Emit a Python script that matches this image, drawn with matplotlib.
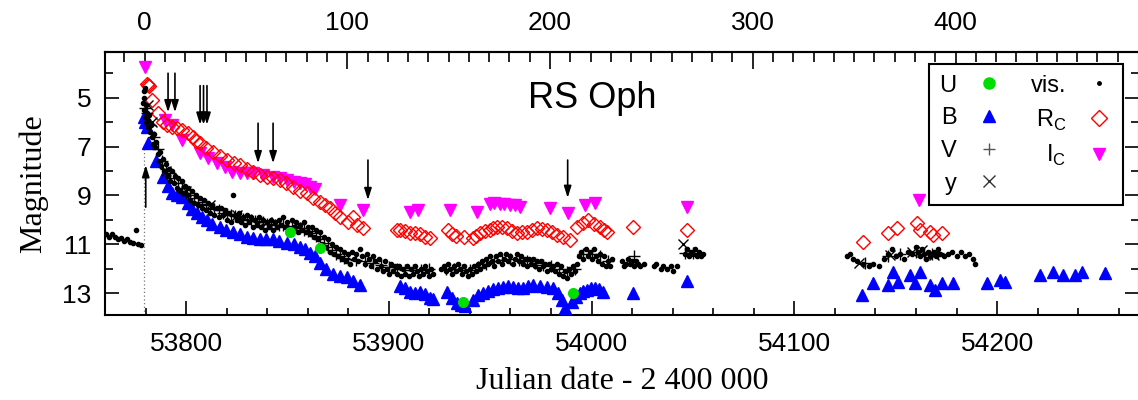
import matplotlib
matplotlib.use("Agg")
import matplotlib.pyplot as plt
from matplotlib.ticker import MultipleLocator, FixedLocator
from matplotlib.lines import Line2D

# ---------------- data ----------------
T0 = 53779.5  # outburst date used for the top axis

u_jd = [53851.2, 53866.0, 53936.6, 53990.8]
u_mag = [10.5, 11.15, 13.35, 12.98]

b_jd = [53779.0, 53779.8, 53780.5, 53781.2, 53785.0, 53788.6, 53791.0, 53793.0, 53795.5,
        53798.0, 53801.0, 53803.0, 53805.4, 53808.0, 53810.3, 53813.0, 53816.7, 53819.8,
        53823.0, 53826.5, 53830.0, 53833.0, 53836.4, 53839.6, 53842.9, 53846.0, 53849.8,
        53853.0, 53856.0, 53858.5, 53861.0, 53863.5, 53866.0, 53869.0, 53872.4, 53876.0,
        53879.4, 53882.5, 53885.8,
        53905.5, 53907.9, 53910.4, 53912.9, 53915.4, 53918.0, 53920.3, 53922.0, 53928.7,
        53931.0, 53933.6, 53935.5, 53937.6, 53941.5, 53944.0, 53946.4, 53949.0, 53951.4,
        53953.9, 53956.3, 53958.7, 53961.2, 53963.7, 53966.2, 53968.6, 53971.1, 53974.5,
        53978.0, 53981.0, 53983.2, 53985.4, 53987.0, 53990.3, 53992.3, 53994.3, 53996.0,
        53997.7, 53999.7, 54001.7, 54003.6, 54005.6, 54020.4,
        54047.0, 54133.4, 54138.8, 54146.2, 54148.7, 54151.2, 54157.0, 54159.5, 54162.0,
        54166.9, 54169.4, 54172.8, 54178.3, 54195.0, 54201.4, 54203.9, 54221.2, 54227.6,
        54232.5, 54238.4, 54241.9, 54253.2]
b_mag = [5.8, 6.0, 6.2, 6.86, 7.6, 8.25, 8.6, 8.9, 9.0,
         9.06, 9.3, 9.55, 9.72, 9.9, 10.0, 10.15, 10.3, 10.4,
         10.5, 10.6, 10.7, 10.75, 10.8, 10.8, 10.8, 10.85, 10.95,
         11.0, 11.1, 11.2, 11.35, 11.5, 11.75, 12.0, 12.2, 12.3,
         12.35, 12.5, 12.66,
         12.7, 12.8, 12.95, 13.0, 12.95, 13.05, 13.2, 13.25, 12.95,
         13.2, 13.4, 13.5, 13.55, 13.27, 13.1, 12.98, 12.9, 12.85,
         12.8, 12.74, 12.7, 12.75, 12.8, 12.78, 12.7, 12.66, 12.7,
         12.74, 12.8, 13.0, 13.27, 13.6, 13.35, 13.15, 12.98, 12.9,
         12.86, 12.8, 12.8, 12.85, 12.95, 12.98,
         12.5, 13.08, 12.6, 12.68, 12.13, 12.55, 12.25, 12.6, 12.13,
         12.67, 12.87, 12.58, 12.58, 12.6, 12.45, 12.55, 12.25, 12.13,
         12.25, 12.25, 12.13, 12.18]

v_jd = [53779.5, 53780.5, 53782, 53784, 53786, 53788, 53790, 53792, 53794, 53796, 53798,
        53800, 53802, 53804, 53806, 53808, 53810, 53812, 53814, 53816, 53818, 53820,
        53822, 53824, 53826, 53828, 53830, 53832, 53834, 53836, 53838, 53840, 53842,
        53844, 53846, 53848, 53850, 53852, 53854, 53856, 53858, 53860, 53862, 53864,
        53866, 53868, 53870, 53872, 53874, 53876, 53878, 53880, 53884, 53888, 53892,
        53896, 53900, 53904, 53908, 53912, 53916, 53920, 53928, 53932, 53936, 53940,
        53944, 53948, 53952, 53956, 53960, 53964, 53968, 53972, 53976, 53980, 53984,
        53988, 53992, 53996, 54000, 54004, 54008, 54021, 54046, 54050, 54135, 54146,
        54152, 54160, 54164, 54168, 54171]
v_mag = [5.4, 5.6, 6.1, 6.6, 7.1, 7.6, 7.9, 8.1, 8.3, 8.5, 8.7,
         8.9, 9.0, 9.1, 9.25, 9.35, 9.4, 9.5, 9.55, 9.6, 9.7, 9.75,
         9.8, 9.85, 9.9, 9.95, 10.0, 10.0, 10.05, 10.1, 10.1, 10.15, 10.15,
         10.2, 10.2, 10.2, 10.25, 10.3, 10.3, 10.35, 10.4, 10.45, 10.55, 10.65,
         10.8, 10.95, 11.1, 11.25, 11.4, 11.5, 11.55, 11.6, 11.65, 11.7, 11.75,
         11.85, 11.95, 12.0, 12.05, 12.05, 12.05, 12.0, 12.0, 12.0, 12.05, 12.05,
         11.95, 11.8, 11.7, 11.65, 11.6, 11.65, 11.7, 11.75, 11.85, 11.9, 12.0,
         12.15, 12.0, 11.4, 11.4, 11.5, 11.7, 11.5, 11.35, 11.35, 11.75, 11.5,
         11.4, 11.3, 11.4, 11.4, 11.35]

y_jd = [53781, 53783, 53790, 53800, 53812, 53825, 53840, 53855, 54045,
        54132, 54147, 54158, 54163, 54169]
y_mag = [5.3, 6.0, 8.0, 8.8, 9.4, 9.8, 10.1, 10.3, 11.0,
         11.75, 11.45, 11.3, 11.25, 11.45]

vis_jd = [53760.5, 53762, 53763.5, 53765, 53766.5, 53768, 53769.5, 53771, 53772.5, 53774,
          53775.5, 53776.5, 53778,
          53778.8, 53779.0, 53779.2, 53779.4, 53779.6, 53779.8, 53780.0, 53780.3, 53780.6,
          53781.0, 53781.4, 53781.8, 53782.2, 53782.7, 53783.2, 53783.7, 53784.2, 53784.8,
          53785.4, 53786.0, 53786.6, 53787.2, 53787.8, 53788.5, 53789.2, 53790.0, 53790.8,
          53791.5, 53792.3, 53793.0, 53793.8, 53794.6, 53795.4, 53796.2, 53797.0, 53797.8,
          53798.6, 53799.4, 53800.2, 53801, 53802, 53803, 53804, 53805, 53806, 53807, 53808,
          53809, 53810, 53811, 53812, 53813, 53814, 53815, 53816, 53817, 53818, 53819,
          53820, 53821, 53822, 53823, 53824, 53825, 53826, 53827, 53828, 53829, 53830,
          53831, 53832, 53833, 53834, 53835, 53836, 53837, 53838, 53839, 53840, 53841,
          53842, 53843, 53844, 53845, 53846, 53847, 53848, 53849, 53850, 53851, 53852,
          53853, 53854, 53855, 53856, 53857, 53858, 53859, 53860, 53861, 53862, 53863,
          53864, 53865, 53866, 53867, 53868, 53869, 53870, 53871, 53872, 53873, 53874,
          53875, 53876, 53877, 53878, 53879, 53880, 53881, 53882, 53883, 53884, 53885,
          53886, 53887, 53888, 53889, 53890, 53891, 53892, 53893, 53894, 53895, 53896,
          53897, 53898, 53899, 53900, 53901, 53902, 53903, 53904, 53905, 53906, 53907,
          53908, 53909, 53910, 53911, 53912, 53913, 53914, 53915, 53916, 53917, 53918,
          53919, 53920, 53921, 53922, 53925.5, 53927, 53928, 53929, 53930, 53931, 53932,
          53933, 53934, 53935, 53936, 53937, 53938, 53939, 53940, 53941, 53942, 53943,
          53944, 53945, 53946, 53947, 53948, 53949, 53950, 53951, 53952, 53953, 53954,
          53955, 53956, 53957, 53958, 53959, 53960, 53961, 53962, 53963, 53964, 53965,
          53966, 53967, 53968, 53969, 53970, 53971, 53972, 53973, 53974, 53975, 53976,
          53977, 53978, 53979, 53980, 53981, 53982, 53983, 53984, 53985, 53986, 53987,
          53988, 53989, 53990, 53991, 53992, 53993, 53994, 53995, 53996, 53997, 53998,
          53999, 54000, 54001, 54002, 54003, 54004, 54005, 54006, 54007, 54008, 54009,
          54010, 54015, 54016, 54017, 54018, 54019, 54020, 54021, 54022, 54023, 54024,
          54026, 54031, 54032, 54034, 54035, 54037, 54039, 54040, 54042, 54046, 54047,
          54048, 54049, 54050, 54051, 54052, 54053, 54054, 54055,
          54126, 54127.5, 54129, 54131, 54134, 54137, 54139, 54142, 54144, 54146, 54148,
          54150, 54152, 54154, 54156, 54158, 54160, 54161, 54162, 54163, 54164, 54165,
          54166, 54167, 54168, 54169, 54170, 54171, 54172, 54174, 54176, 54178, 54180,
          54182, 54184, 54186, 54188, 54189]
vis_mag = [10.6, 10.7, 10.6, 10.7, 10.8, 10.75, 10.85, 10.8, 10.9, 10.95,
           10.4, 11.0, 11.05,
           5.2, 4.7, 5.5, 5.0, 5.8, 4.6, 6.0, 5.3, 5.6,
           5.9, 6.2, 5.7, 6.4, 6.1, 6.6, 6.9, 6.5, 7.0,
           6.8, 7.3, 7.6, 7.2, 7.8, 7.5, 8.0, 7.7, 8.2,
           7.9, 8.4, 8.0, 8.5, 8.2, 8.7, 8.3, 8.8, 8.4,
           8.9, 8.6, 9.0, 8.7, 9.2, 8.8, 9.3, 9.0, 9.4, 9.1, 9.5,
           9.2, 9.6, 9.3, 9.7, 9.4, 9.8, 9.5, 9.9, 9.5, 9.8, 9.6,
           10.0, 9.7, 10.1, 9.0, 9.8, 10.0, 9.7, 10.1, 9.9, 10.2, 9.8,
           10.1, 9.9, 10.3, 10.0, 10.2, 9.9, 10.3, 10.0, 10.4, 10.1, 10.3,
           10.0, 10.4, 10.1, 10.3, 10.0, 10.2, 9.9, 10.3, 10.1, 10.4, 10.0,
           10.3, 10.1, 10.5, 10.2, 10.4, 10.1, 10.5, 10.3, 10.6, 10.3, 10.7,
           10.4, 10.8, 10.5, 11.0, 10.7, 11.1, 10.8, 11.3, 11.0, 11.4, 11.1,
           11.5, 11.2, 11.6, 11.3, 11.7, 11.4, 11.8, 11.3, 11.6, 11.4, 11.7,
           11.2, 11.5, 11.8, 11.4, 11.6, 11.9, 11.5, 11.7, 12.0, 11.6, 11.9,
           12.1, 11.7, 12.0, 12.2, 11.8, 12.1, 11.9, 12.2, 11.9, 12.3, 12.0,
           12.2, 11.9, 12.3, 12.0, 12.2, 11.9, 12.1, 12.3, 12.0, 12.2, 11.9,
           12.1, 12.3, 12.0, 12.2, 12.0, 11.9, 12.1, 11.8, 12.0, 12.2, 11.9,
           12.1, 11.8, 12.0, 12.2, 11.9, 12.1, 12.3, 12.0, 12.2, 11.9, 12.1,
           11.8, 12.0, 11.7, 11.9, 11.6, 11.8, 11.5, 11.7, 11.9, 11.5, 11.7,
           11.4, 11.8, 11.6, 11.4, 11.7, 11.5, 11.8, 11.6, 11.4, 11.7, 11.5,
           11.8, 11.6, 11.9, 11.6, 11.8, 11.6, 11.9, 11.7, 12.0, 11.7, 11.9,
           11.8, 12.1, 11.8, 12.0, 11.9, 12.1, 11.8, 12.2, 11.9, 12.3, 12.1,
           12.4, 12.0, 12.2, 11.9, 12.1, 11.8, 11.5, 11.3, 11.6, 11.2, 11.5,
           11.3, 11.6, 11.2, 11.5, 11.7, 11.4, 11.8, 11.5, 11.9, 11.7, 11.9,
           11.6, 11.7, 11.9, 11.8, 11.6, 11.8, 11.7, 11.9, 11.7, 11.8, 11.9,
           11.8, 11.9, 11.8, 12.0, 11.9, 12.0, 11.9, 12.1, 11.9, 11.4, 11.2,
           11.5, 11.3, 11.4, 11.2, 11.5, 11.3, 11.5, 11.4,
           11.5, 11.4, 11.6, 11.7, 11.8, 11.9, 11.8, 11.9, 11.6, 11.4, 11.2,
           11.5, 11.4, 11.6, 11.3, 11.4, 11.1, 11.3, 11.5, 11.2, 11.4, 11.6,
           11.3, 11.5, 11.4, 11.3, 11.5, 11.2, 11.4, 11.5, 11.4, 11.3, 11.5,
           11.3, 11.5, 11.4, 11.6, 11.8]

r_jd = [53780.8, 53781.2, 53781.6, 53783.2, 53785.9, 53788.6, 53790.8, 53793.0, 53795.5,
        53798.0, 53800.7, 53803.4, 53805.0, 53806.9, 53810.0, 53813.3, 53816.7, 53820.2,
        53823.4, 53826.6, 53829.8, 53833.0, 53836.4, 53839.9, 53843.1, 53846.3, 53849.5,
        53852.7, 53856.2, 53859.6, 53862.8, 53866.0, 53868.5, 53871.0, 53873.4, 53875.9,
        53879.9, 53882.3, 53884.5, 53887.3,
        53904.0, 53905.5, 53907.9, 53910.4, 53912.9, 53915.4, 53918.0, 53920.3, 53929.2,
        53931.1, 53933.0, 53937.0, 53941.5, 53943.2, 53945.0, 53947.4, 53949.9, 53951.6,
        53953.3, 53955.8, 53958.3, 53960.7, 53963.2, 53965.6, 53968.1, 53970.6, 53973.1,
        53975.5, 53978.0, 53980.5, 53982.9, 53986.0, 53989.3, 53993.0, 53995.8, 53998.2,
        54001.0, 54004.1, 54006.0, 54007.6,
        54020.4, 54047.0, 54133.9, 54146.2, 54150.6, 54160.5, 54162.0, 54166.9, 54168.4,
        54172.8]
r_mag = [4.45, 4.48, 4.5, 5.1, 5.6, 5.98, 6.1, 6.2, 6.25,
         6.33, 6.45, 6.6, 6.75, 6.86, 7.05, 7.22, 7.4, 7.55,
         7.65, 7.76, 7.9, 8.04, 8.15, 8.25, 8.3, 8.37, 8.5,
         8.66, 8.8, 8.9, 9.1, 9.27, 9.4, 9.52, 9.7, 9.88,
         10.09, 9.88, 10.2, 10.34,
         10.4, 10.4, 10.45, 10.53, 10.55, 10.6, 10.7, 10.74, 10.41,
         10.6, 10.65, 10.7, 10.74, 10.65, 10.53, 10.45, 10.41, 10.35,
         10.29, 10.3, 10.35, 10.45, 10.53, 10.5, 10.49, 10.4, 10.35,
         10.38, 10.41, 10.5, 10.62, 10.7, 10.82, 10.3, 10.13, 10.0,
         10.15, 10.29, 10.4, 10.49,
         10.29, 10.41, 10.9, 10.55, 10.35, 10.14, 10.41, 10.49, 10.62,
         10.55]

i_jd = [53779.7, 53789.6, 53793.0, 53798.0, 53806.9, 53810.9, 53815.2, 53819.0, 53822.6,
        53826.6, 53829.8, 53833.0, 53837.9, 53842.9, 53846.3, 53849.8, 53853.0, 53856.2,
        53858.7, 53861.1, 53863.5, 53875.9, 53887.3, 53910.4, 53914.4, 53930.2,
        53943.5, 53949.9, 53952.0, 53954.8, 53957.0, 53959.8, 53962.0, 53964.7, 53979.5,
        53988.4, 53996.7, 54001.7, 54047.0, 54161.5]
i_mag = [3.75, 5.9, 6.1, 6.73, 7.26, 7.45, 7.67, 7.85, 8.04,
         8.08, 8.1, 8.08, 8.15, 8.25, 8.3, 8.37, 8.45, 8.5,
         8.55, 8.66, 8.75, 9.39, 9.6, 9.68, 9.6, 9.6,
         9.68, 9.35, 9.3, 9.35, 9.35, 9.39, 9.4, 9.47, 9.51,
         9.72, 9.39, 9.31, 9.47, 9.19]

# arrows (JD, start magnitude, tip magnitude)
down_jd = [53791.1, 53794.5, 53806.9, 53808.6, 53810.3, 53835.5, 53842.9, 53889.7, 53988.2]
down_top = [3.99, 3.99, 4.5, 4.5, 4.5, 6.04, 6.04, 7.55, 7.55]
down_tip = [5.59, 5.59, 6.1, 6.1, 6.1, 7.68, 7.68, 9.19, 9.1]
up_jd = [53780.1]
up_start = [9.48]
up_tip = [7.76]

# ---------------- figure ----------------
W, H = 1138, 400
fig = plt.figure(figsize=(W / 100, H / 100), dpi=100)
ax = fig.add_axes([105 / W, 1 - 315 / H, 1034 / W, 263 / H])

sans = "Liberation Sans"
serif = "Liberation Serif"
plt.rcParams["mathtext.fontset"] = "custom"
plt.rcParams["mathtext.rm"] = sans

ax.plot(b_jd, b_mag, ls="none", marker="^", ms=9, color="#0000ff", mec="#0000ff", zorder=3)
ax.plot(i_jd, i_mag, ls="none", marker="v", ms=9, color="#ff00ff", mec="#ff00ff", zorder=3)
ax.plot(r_jd, r_mag, ls="none", marker="D", ms=7, mfc="none", mec="#ff0000", mew=1.0, zorder=4)
ax.plot(vis_jd, vis_mag, ls="none", marker="o", ms=3.0, color="black", zorder=5)
ax.plot(v_jd, v_mag, ls="none", marker="+", ms=8, color="black", mew=1.0, zorder=5)
ax.plot(y_jd, y_mag, ls="none", marker="x", ms=6.5, color="black", mew=1.0, zorder=5)
ax.plot(u_jd, u_mag, ls="none", marker="o", ms=7, color="#00dd00", zorder=6)

for x, a, b in zip(down_jd, down_top, down_tip):
    ax.annotate("", xy=(x, b), xytext=(x, a),
                arrowprops=dict(arrowstyle="-|>,head_length=0.7,head_width=0.22",
                                color="black", lw=1.2, shrinkA=0, shrinkB=0), zorder=7)
for x, a, b in zip(up_jd, up_start, up_tip):
    ax.annotate("", xy=(x, b), xytext=(x, a),
                arrowprops=dict(arrowstyle="-|>,head_length=0.7,head_width=0.22",
                                color="black", lw=1.2, shrinkA=0, shrinkB=0), zorder=7)
ax.axvline(T0 - 0.4, ymin=0.0, ymax=(13.9 - 6.9) / (13.9 - 3.12), color="#777777",
           ls=(0, (1, 2)), lw=0.9, zorder=1)

ax.set_xlim(53760, 54270)
ax.set_ylim(13.9, 3.12)
ax.xaxis.set_major_locator(FixedLocator([53800, 53900, 54000, 54100, 54200]))
ax.xaxis.set_minor_locator(MultipleLocator(20))
ax.yaxis.set_major_locator(FixedLocator([5, 7, 9, 11, 13]))
ax.yaxis.set_minor_locator(MultipleLocator(1))
ax.tick_params(axis="both", which="both", direction="in", right=True, top=False,
               labelsize=19, width=1.2)
ax.tick_params(axis="x", which="major", length=10, pad=12)
ax.tick_params(axis="x", which="minor", length=5)
ax.tick_params(axis="y", which="major", length=10, pad=10)
ax.tick_params(axis="y", which="minor", length=6)
for lab in ax.get_xticklabels() + ax.get_yticklabels():
    lab.set_fontfamily(sans)
for s in ax.spines.values():
    s.set_linewidth(1.5)

top = ax.secondary_xaxis("top", functions=(lambda x: x - T0, lambda d: d + T0))
top.xaxis.set_major_locator(FixedLocator([0, 100, 200, 300, 400]))
top.xaxis.set_minor_locator(FixedLocator(list(range(-10, 490, 10))))
top.tick_params(axis="x", which="both", direction="in", labelsize=19, width=1.2)
top.tick_params(axis="x", which="major", length=12, pad=12)
top.tick_params(axis="x", which="minor", length=7)
for lab in top.get_xticklabels():
    lab.set_fontfamily(sans)
top.spines["top"].set_linewidth(1.5)

ax.set_xlabel("Julian date - 2 400 000", fontfamily=serif, fontsize=23, labelpad=8)
ax.set_ylabel("Magnitude", fontfamily=serif, fontsize=23, labelpad=10)

ax.text(0.471, 0.787, "RS Oph", transform=ax.transAxes, ha="center", va="baseline",
        fontsize=26, fontfamily=sans)

handles = [
    Line2D([], [], ls="none", marker="o", ms=8, color="#00dd00"),
    Line2D([], [], ls="none", marker="^", ms=9, color="#0000ff"),
    Line2D([], [], ls="none", marker="+", ms=9, color="#555555", mew=1.0),
    Line2D([], [], ls="none", marker="x", ms=8, color="#333333", mew=1.0),
    Line2D([], [], ls="none", marker="o", ms=2.5, color="black"),
    Line2D([], [], ls="none", marker="D", ms=8, mfc="none", mec="#ff0000", mew=1.0),
    Line2D([], [], ls="none", marker="v", ms=9, color="#ff00ff"),
]
labels = ["U", "B", "V", "y", "vis.", r"R$_\mathregular{C}$", r"I$_\mathregular{C}$"]
leg = ax.legend(handles, labels, ncol=2, markerfirst=False, loc="upper right",
                bbox_to_anchor=(0.9845, 0.954), borderaxespad=0, fancybox=False,
                framealpha=1, edgecolor="black", handlelength=1.15, handletextpad=0.8,
                columnspacing=1.2, labelspacing=0.45, borderpad=0.45,
                prop={"family": sans, "size": 17})
leg.get_frame().set_linewidth(1.5)
leg.set_zorder(10)

fig.savefig("out.png", dpi=100)
